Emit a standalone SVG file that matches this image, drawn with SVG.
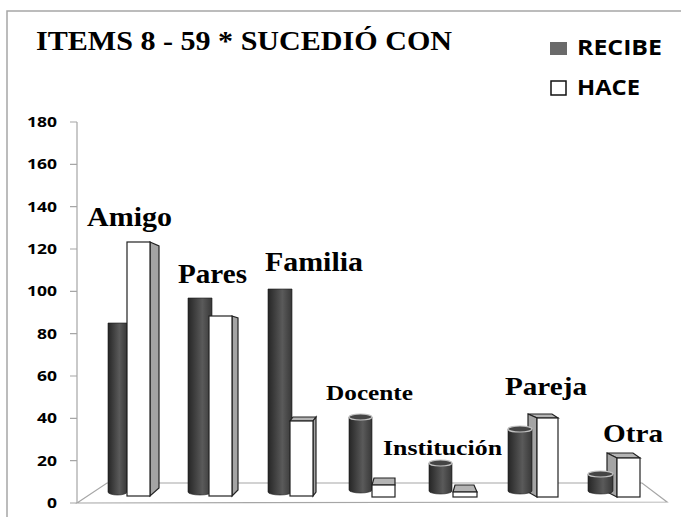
<svg xmlns="http://www.w3.org/2000/svg" width="681" height="517" viewBox="0 0 681 517">
<defs>
<linearGradient id="cylG" x1="0" y1="0" x2="1" y2="0">
<stop offset="0" stop-color="#262626"/>
<stop offset="0.6" stop-color="#5a5a5a"/>
<stop offset="1" stop-color="#383838"/>
</linearGradient>
</defs>
<style>
.frame{stroke:#a6a6a6;stroke-width:1.5;fill:none}
.ax{stroke:#a6a6a6;stroke-width:1.2;fill:none}
.num{font-family:"Open Sans","Liberation Sans",sans-serif;font-weight:700;font-size:14px;fill:#000;text-anchor:end}
.lab{font-family:"Liberation Serif","Times New Roman",serif;font-weight:700;fill:#000}
.leg{font-family:"Open Sans","Liberation Sans",sans-serif;font-weight:700;font-size:21px;fill:#000}
.cyl{fill:url(#cylG);stroke:#1a1a1a;stroke-width:0.6}
.ctop{fill:#454545;stroke:#c0c0c0;stroke-width:1.2}
.front{fill:#fff;stroke:#222;stroke-width:1.2}
.side{fill:#a4a4a4;stroke:#222;stroke-width:1.2}
.top{fill:#b4b4b4;stroke:#222;stroke-width:1.2}
</style>
<rect width="681" height="517" fill="#fff"/>
<path class="frame" d="M7,517 V11 H681"/>
<text class="lab" x="36" y="50" font-size="27" textLength="416" lengthAdjust="spacingAndGlyphs">ITEMS 8 - 59 * SUCEDIÓ CON</text>
<g id="legend">
<rect x="550" y="42" width="17" height="13" fill="#6a6a6a"/>
<text class="leg" x="577" y="55" textLength="85" lengthAdjust="spacingAndGlyphs">RECIBE</text>
<rect x="551" y="81" width="15" height="14" fill="#fff" stroke="#111" stroke-width="1.5"/>
<text class="leg" x="577" y="95" textLength="63" lengthAdjust="spacingAndGlyphs">HACE</text>
</g>
<g id="axis">
<path class="ax" d="M77,122 V503 M70,503 H77 M70,460.7 H77 M70,418.3 H77 M70,376 H77 M70,333.7 H77 M70,291.3 H77 M70,249 H77 M70,206.7 H77 M70,164.3 H77 M70,122 H77"/>
<text class="num" x="57" y="508" textLength="10" lengthAdjust="spacingAndGlyphs">0</text>
<text class="num" x="57" y="466" textLength="20" lengthAdjust="spacingAndGlyphs">20</text>
<text class="num" x="57" y="423" textLength="20" lengthAdjust="spacingAndGlyphs">40</text>
<text class="num" x="57" y="381" textLength="20" lengthAdjust="spacingAndGlyphs">60</text>
<text class="num" x="57" y="339" textLength="20" lengthAdjust="spacingAndGlyphs">80</text>
<text class="num" x="57" y="296" textLength="30" lengthAdjust="spacingAndGlyphs">100</text>
<text class="num" x="57" y="254" textLength="30" lengthAdjust="spacingAndGlyphs">120</text>
<text class="num" x="57" y="212" textLength="30" lengthAdjust="spacingAndGlyphs">140</text>
<text class="num" x="57" y="169" textLength="30" lengthAdjust="spacingAndGlyphs">160</text>
<text class="num" x="57" y="127" textLength="30" lengthAdjust="spacingAndGlyphs">180</text>
</g>
<g id="floor">
<path class="ax" d="M77,503 L107,483 H642 L667,502 Z"/>
</g>
<g id="amigo">
<path class="cyl" d="M108,323 H127 V492 A9.5,3 0 0 1 108,492 Z"/>
<polygon class="side" points="150,242 159,246 159,488 150,496"/>
<rect class="front" x="127" y="242" width="23" height="254"/>
<text class="lab" x="87" y="226" font-size="27" textLength="85" lengthAdjust="spacingAndGlyphs">Amigo</text>
</g>
<g id="pares">
<path class="cyl" d="M188,298 H212 V492 A12,3 0 0 1 188,492 Z"/>
<polygon class="side" points="232,316 238,318 238,490 232,496"/>
<rect class="front" x="209" y="316" width="23" height="180"/>
<text class="lab" x="178" y="283" font-size="27" textLength="69" lengthAdjust="spacingAndGlyphs">Pares</text>
</g>
<g id="familia">
<path class="cyl" d="M268,289 H292 V492 A12,3 0 0 1 268,492 Z"/>
<polygon class="top" points="290,421 313,421 316,417 293,417"/>
<polygon class="side" points="313,421 316,417 316,492 313,496"/>
<rect class="front" x="290" y="421" width="23" height="75"/>
<text class="lab" x="265" y="271" font-size="27" textLength="98" lengthAdjust="spacingAndGlyphs">Familia</text>
</g>
<g id="docente">
<path class="cyl" d="M349,417 H372 V490 A11.5,3 0 0 1 349,490 Z"/>
<ellipse class="ctop" cx="360.5" cy="417" rx="11.5" ry="3"/>
<polygon class="top" points="372,485 395,485 395,478 374,478"/>
<rect class="front" x="372" y="485" width="23" height="12"/>
<text class="lab" x="326" y="400" font-size="22" textLength="87" lengthAdjust="spacingAndGlyphs">Docente</text>
</g>
<g id="institucion">
<path class="cyl" d="M429,463 H452 V491 A11.5,3 0 0 1 429,491 Z"/>
<ellipse class="ctop" cx="440.5" cy="463" rx="11.5" ry="3"/>
<polygon class="top" points="453,492 477,492 474,485 455,485"/>
<rect class="front" x="453" y="492" width="24" height="5"/>
<text class="lab" x="383" y="455" font-size="22" textLength="119" lengthAdjust="spacingAndGlyphs">Institución</text>
</g>
<g id="pareja">
<polygon class="top" points="528,414 552,414 558,418 537,418"/>
<polygon class="side" points="528,414 537,418 537,497 528,492"/>
<rect class="front" x="537" y="418" width="21" height="79"/>
<path class="cyl" d="M508,429 H532 V491 A12,3 0 0 1 508,491 Z"/>
<ellipse class="ctop" cx="520" cy="429" rx="12" ry="3"/>
<text class="lab" x="505" y="395" font-size="26" textLength="82" lengthAdjust="spacingAndGlyphs">Pareja</text>
</g>
<g id="otra">
<polygon class="top" points="607,453 633,453 640,458 617,458"/>
<polygon class="side" points="607,453 617,458 617,497 607,492"/>
<rect class="front" x="617" y="458" width="23" height="39"/>
<path class="cyl" d="M588,474 H613 V491 A12.5,3 0 0 1 588,491 Z"/>
<ellipse class="ctop" cx="600.5" cy="474" rx="12.5" ry="3"/>
<text class="lab" x="603" y="442" font-size="26" textLength="60" lengthAdjust="spacingAndGlyphs">Otra</text>
</g>
</svg>
